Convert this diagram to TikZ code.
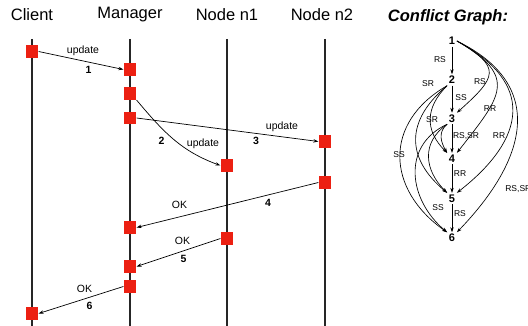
\documentclass[tikz,border=0pt]{standalone}
\usepackage{fontspec}
\setmainfont{Liberation Sans}
\usetikzlibrary{arrows.meta}

\begin{document}
\begin{tikzpicture}[
            x = 1pt, y = 1pt,
            > = {Stealth[length=5pt,width=3.4pt]}, % arrow head style
            line width = 0.7pt
        ]

        \useasboundingbox (0,0) rectangle (528,-326);

        \tikzstyle{head}=[font=\fontsize{16.5}{18}\selectfont, inner sep=0pt]
        \tikzstyle{act}=[fill={rgb,255:red,236;green,32;blue,18}, minimum size=12.5pt, inner sep=0pt]
        \tikzstyle{msg}=[->, black]
        \tikzstyle{lbl}=[font=\fontsize{10.5}{12}\selectfont, inner sep=0pt]
        \tikzstyle{num}=[font=\fontsize{10.5}{12}\selectfont\bfseries, inner sep=0pt]

        % lifelines
        \node[head] (client) at (32,-15) {Client};
        \node[head] (manager) at (130,-15) {Manager};
        \node[head] (n1) at (227,-15) {Node n1};
        \node[head] (n2) at (322,-15) {Node n2};

        \foreach \n/\x in {client/32, manager/130, n1/227, n2/325} {
            \coordinate (\n top) at (\x,-39);
            \coordinate (\n bot) at (\x,-326);
            \draw[line width=1.3pt, black!85] (\n top) -- (\n bot);
        }

        % activations
        \node[act] (c1) at (32,-51.5) {};
        \node[act] (c2) at (32,-313.5) {};
        \node[act] (m1) at (130,-69.5) {};
        \node[act] (m2) at (130,-93.5) {};
        \node[act] (m3) at (130,-118) {};
        \node[act] (m4) at (130,-227.5) {};
        \node[act] (m5) at (130,-266.5) {};
        \node[act] (m6) at (130,-286.5) {};
        \node[act] (a1) at (227,-165.5) {};
        \node[act] (a2) at (227,-238.5) {};
        \node[act] (b1) at (325,-141.5) {};
        \node[act] (b2) at (325,-182.5) {};

        % messages
        \draw[msg] (c1.east) -- (m1.west);
        \draw[msg] (m2.south east) to[out=-50, in=160] (a1.west);
        \draw[msg] (m3.east) -- (b1.west);
        \draw[msg] (b2.west) -- (m4.east);
        \draw[msg] (a2.west) -- (m5.east);
        \draw[msg] (m6.west) -- (c2.east);

        \node[lbl] (u1) at (83,-51) {update};
        \node[num] (k1) at (88.5,-69.5) {1};
        \node[num] (k2) at (161.5,-140.5) {2};
        \node[lbl] (u2) at (203,-144) {update};
        \node[lbl] (u3) at (282,-127) {update};
        \node[num] (k3) at (256,-141) {3};
        \node[lbl] (o4) at (179.5,-204.5) {OK};
        \node[num] (k4) at (268,-203) {4};
        \node[lbl] (o5) at (182.5,-241) {OK};
        \node[num] (k5) at (183.5,-259) {5};
        \node[lbl] (o6) at (84.5,-289) {OK};
        \node[num] (k6) at (89.5,-305.5) {6};

        % conflict graph
        \node[font=\fontsize{16.5}{18}\selectfont\bfseries\itshape, inner sep=0pt] (title) at (448,-17.5) {Conflict Graph:};

        \tikzstyle{gnode}=[font=\fontsize{11}{12}\selectfont\bfseries, inner sep=1.5pt]
        \tikzstyle{glbl}=[font=\fontsize{8.5}{9}\selectfont, inner sep=0pt]
        \tikzstyle{gedge}=[->, line width=0.65pt]

        \foreach \i/\y in {1/41, 2/80, 3/118.5, 4/158.5, 5/198.5, 6/238}
            \node[gnode] (g\i) at (452,-\y) {\i};

        \foreach \i/\j in {1/2, 2/3, 3/4, 4/5, 5/6}
            \draw[gedge] (g\i) -- (g\j);

        \node[glbl] (r12) at (440,-59.5) {RS};
        \node[glbl] (r23) at (461,-97.5) {SS};
        \node[glbl] (r34) at (466,-136) {RS,SR};
        \node[glbl] (r45) at (460,-174) {RR};
        \node[glbl] (r56) at (460,-213.5) {RS};

        % right arcs from 1
        \draw[gedge] (g1.east) to[out=-30, in=42, looseness=1.9] (g3.north east);
        \draw[gedge] (g1.east) to[out=-30, in=52, looseness=1.65] (g4.north east);
        \draw[gedge] (g1.east) to[out=-28, in=38, looseness=1.5] (g5.north east);
        \draw[gedge] (g1.east) to[out=-26, in=46, looseness=1.35] (g6.north east);

        \node[glbl] (r13) at (480,-82) {RS};
        \node[glbl] (r14) at (490,-108.5) {RR};
        \node[glbl] (r15) at (499,-136) {RR};
        \node[glbl, anchor=west] (r16) at (505,-189) {RS,SR};

        % left arcs from 2 and 3
        \draw[gedge] (g2.south west) to[out=225, in=135, looseness=1.2] (g4.north west);
        \draw[gedge] (g2.south west) to[out=220, in=140, looseness=1.3] (g5.north west);
        \draw[gedge] (g2.south west) to[out=210, in=145, looseness=1.3] (g6.north west);
        \draw[gedge] (g3.south west) to[out=220, in=120, looseness=1.1] (g4.north west);
        \draw[gedge] (g3.south west) to[out=215, in=135, looseness=1.2] (g5.north west);
        \draw[gedge] (g3.south west) to[out=205, in=140, looseness=1.2] (g6.north west);

        \node[glbl] (l24) at (428,-83.5) {SR};
        \node[glbl] (l35) at (432,-120) {SR};
        \node[glbl] (l26) at (399,-155) {SS};
        \node[glbl] (l36) at (438,-208) {SS};
    \end{tikzpicture}
\end{document}
